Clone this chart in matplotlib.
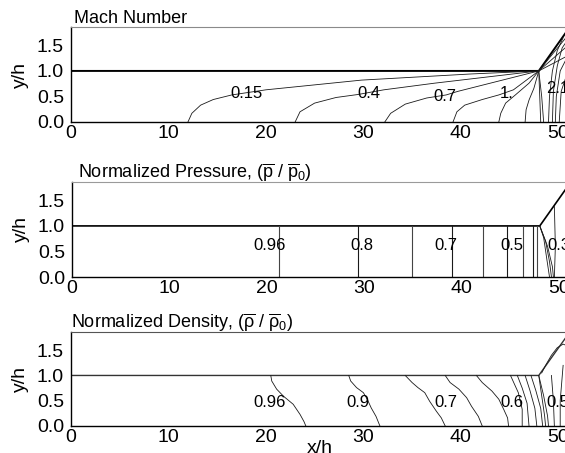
import matplotlib
matplotlib.use("Agg")
import matplotlib.pyplot as plt

plt.rcParams['font.family'] = 'Liberation Sans'
plt.rcParams['mathtext.fontset'] = 'custom'
plt.rcParams['mathtext.rm'] = 'Liberation Sans'
plt.rcParams['mathtext.it'] = 'Liberation Sans'

# geometry: wall at y/h = 1 up to the corner, then the ramp
wall_x = [0.0, 48.0, 51.0]
wall_y = [1.0, 1.0, 1.81]

x_ticks = [0, 10, 20, 30, 40, 50]
y_ticks = [0.0, 0.5, 1.0, 1.5]

# Mach number contours (x/h, y/h)
mach_lines = [
    ([12.0, 12.4, 13.3, 14.6, 16.5, 20.0, 29.8, 41.0, 48.0],
     [0.0, 0.17, 0.33, 0.44, 0.53, 0.63, 0.82, 0.94, 1.0]),
    ([23.0, 23.5, 25.0, 27.2, 29.5, 32.1, 37.3, 48.0],
     [0.0, 0.2, 0.37, 0.48, 0.54, 0.63, 0.76, 1.0]),
    ([32.2, 32.8, 34.3, 36.5, 38.5, 39.7, 48.0],
     [0.0, 0.17, 0.35, 0.47, 0.53, 0.6, 1.0]),
    ([39.2, 39.6, 40.4, 42.2, 43.9, 45.4, 48.0],
     [0.0, 0.2, 0.33, 0.44, 0.53, 0.63, 1.0]),
    ([43.9, 44.1, 44.6, 45.6, 47.0, 48.0],
     [0.0, 0.17, 0.37, 0.53, 0.76, 1.0]),
    ([46.6, 46.7, 47.0, 47.5, 48.0],
     [0.0, 0.24, 0.43, 0.66, 1.0]),
    ([48.0, 48.1, 48.2], [1.0, 0.5, 0.0]),
    ([48.0, 48.3, 48.5], [1.0, 0.5, 0.0]),
    ([49.0, 49.1, 49.4, 49.9, 50.5], [0.0, 0.5, 1.0, 1.4, 1.65]),
    ([49.4, 49.5, 49.9, 50.4, 51.0], [0.0, 0.6, 1.1, 1.45, 1.62]),
    ([49.7, 49.8, 50.2, 51.0], [0.0, 0.5, 1.0, 1.3]),
    ([50.1, 50.3, 51.0], [0.0, 0.6, 1.0]),
    ([48.0, 51.0], [1.0, 1.7]),
    ([48.0, 51.0], [1.0, 1.5]),
    ([48.0, 51.0], [1.0, 1.3]),
]
mach_labels = ["0.15", "0.4", "0.7", "1.", "2.1"]
mach_label_x = [18.0, 30.6, 38.4, 44.7, 48.8]
mach_label_y = [0.55, 0.55, 0.5, 0.55, 0.66]

# normalized pressure contours
press_x = [21.2, 29.3, 34.9, 39.0, 42.2, 44.6, 46.3, 47.3, 47.7]
press_curves = [
    ([48.0, 48.4, 48.7, 49.0], [1.0, 0.77, 0.38, 0.0]),
    ([48.0, 48.6, 49.0, 49.2], [1.0, 0.7, 0.3, 0.0]),
    ([48.0, 48.8, 49.3, 49.4], [1.0, 0.6, 0.2, 0.0]),
    ([49.5, 49.6, 49.5], [1.38, 0.6, 0.0]),
]
press_labels = ["0.96", "0.8", "0.7", "0.5", "0.3"]
press_label_x = [20.3, 29.7, 38.4, 45.1, 48.8]
press_label_y = [0.62, 0.62, 0.62, 0.62, 0.62]

# normalized density contours
dens_lines = [
    ([20.5, 20.6, 21.1, 21.8, 22.8, 23.5, 23.9, 24.1],
     [1.0, 0.89, 0.73, 0.59, 0.43, 0.23, 0.09, 0.0]),
    ([28.5, 28.7, 29.3, 30.0, 30.4, 30.8, 31.3, 31.7],
     [1.0, 0.89, 0.76, 0.66, 0.53, 0.36, 0.19, 0.0]),
    ([34.3, 35.0, 35.6, 36.3, 36.8, 37.5, 38.0, 38.4],
     [1.0, 0.86, 0.76, 0.66, 0.49, 0.29, 0.16, 0.0]),
    ([38.4, 38.9, 39.8, 40.6, 41.1, 41.8, 42.2],
     [1.0, 0.86, 0.73, 0.56, 0.39, 0.19, 0.0]),
    ([41.6, 42.2, 43.2, 43.9, 44.4, 44.8, 44.9],
     [1.0, 0.86, 0.69, 0.53, 0.33, 0.16, 0.0]),
    ([45.1, 45.9, 46.3, 46.3], [1.0, 0.66, 0.33, 0.0]),
    ([45.8, 46.3, 46.8, 47.0], [1.0, 0.75, 0.45, 0.0]),
    ([46.6, 47.1, 47.6, 47.8], [1.0, 0.7, 0.35, 0.0]),
    ([47.2, 47.7, 48.2, 48.4], [1.0, 0.7, 0.35, 0.0]),
    ([48.0, 48.3, 48.6, 48.7], [1.0, 0.6, 0.2, 0.0]),
    ([48.0, 48.5, 48.9, 49.0], [1.0, 0.6, 0.2, 0.0]),
    ([48.3, 48.7, 49.3, 49.9, 50.5, 51.0], [1.05, 1.2, 1.4, 1.55, 1.62, 1.58]),
    ([49.3, 49.5, 49.6], [1.0, 0.5, 0.0]),
    ([50.5, 50.2, 50.2], [1.2, 0.5, 0.0]),
]
dens_labels = ["0.96", "0.9", "0.7", "0.6", "0.5"]
dens_label_x = [20.4, 29.4, 38.5, 45.2, 48.8]
dens_label_y = [0.46, 0.46, 0.46, 0.46, 0.46]

titles = ["Mach Number",
          r"Normalized Pressure, $(\overline{\mathrm{p}}\ /\ \overline{\mathrm{p}}_0)$",
          r"Normalized Density, $(\overline{\rho}\ /\ \overline{\rho}_0)$"]

W, H = 565, 453
fig = plt.figure(figsize=(W / 100, H / 100), dpi=100)

# axes boxes in pixels: left, top, bottom
boxes = [(71, 27, 122), (72, 182, 277), (71, 332, 426)]
title_dx = [3, 6, 0]
top_color = ["#8a8a8a", "#9a9a9a", "#555555"]
ax_w = 497

axes = []
for i, (left, top, bottom) in enumerate(boxes):
    ax = fig.add_axes([left / W, 1 - bottom / H, ax_w / W, (bottom - top) / H])
    ax.set_xlim(0, 51)
    ax.set_ylim(0, 1.86)
    ax.set_xticks(x_ticks)
    ax.set_xticklabels([str(t) for t in x_ticks])
    ax.set_yticks(y_ticks)
    ax.set_yticklabels(["%.1f" % t for t in y_ticks])
    ax.tick_params(length=0, labelsize=14)
    ax.tick_params(axis='y', pad=5)
    ax.tick_params(axis='x', pad=2)
    ax.spines['right'].set_visible(False)
    ax.spines['top'].set_color(top_color[i])
    for s in ['left', 'bottom']:
        ax.spines[s].set_linewidth(1.0)
    ax.set_ylabel("y/h", fontsize=14, labelpad=6)
    ax.text(title_dx[i] / ax_w, 1 + 4 / 95, titles[i], transform=ax.transAxes,
            fontsize=13, ha='left', va='baseline')
    axes.append(ax)

ax1, ax2, ax3 = axes
lc = "#1a1a1a"

# Mach number -------------------------------------------------
ax1.plot(wall_x, wall_y, color="black", lw=1.4)
for xs, ys in mach_lines:
    ax1.plot(xs, ys, color=lc, lw=0.6)
for t, x, y in zip(mach_labels, mach_label_x, mach_label_y):
    ax1.text(x, y, t, fontsize=12, ha='center' if t != "2.1" else 'left', va='center')

# Pressure ----------------------------------------------------
ax2.plot(wall_x, wall_y, color="black", lw=1.2)
for i, x in enumerate(press_x):
    ax2.plot([x, x], [0, 1.0], color=lc if i % 2 == 1 else "#444444", lw=0.8)
for xs, ys in press_curves:
    ax2.plot(xs, ys, color=lc, lw=0.6)
for t, x, y in zip(press_labels, press_label_x, press_label_y):
    ax2.text(x, y, t, fontsize=12, ha='center' if t != "0.3" else 'left', va='center')

# Density -----------------------------------------------------
ax3.plot(wall_x, wall_y, color="#333333", lw=1.0)
for xs, ys in dens_lines:
    ax3.plot(xs, ys, color=lc, lw=0.6)
for t, x, y in zip(dens_labels, dens_label_x, dens_label_y):
    ax3.text(x, y, t, fontsize=12, ha='center' if t != "0.5" else 'left', va='center')
ax3.set_xlabel("x/h", fontsize=14, labelpad=-4)

fig.savefig("out.png", dpi=100)
